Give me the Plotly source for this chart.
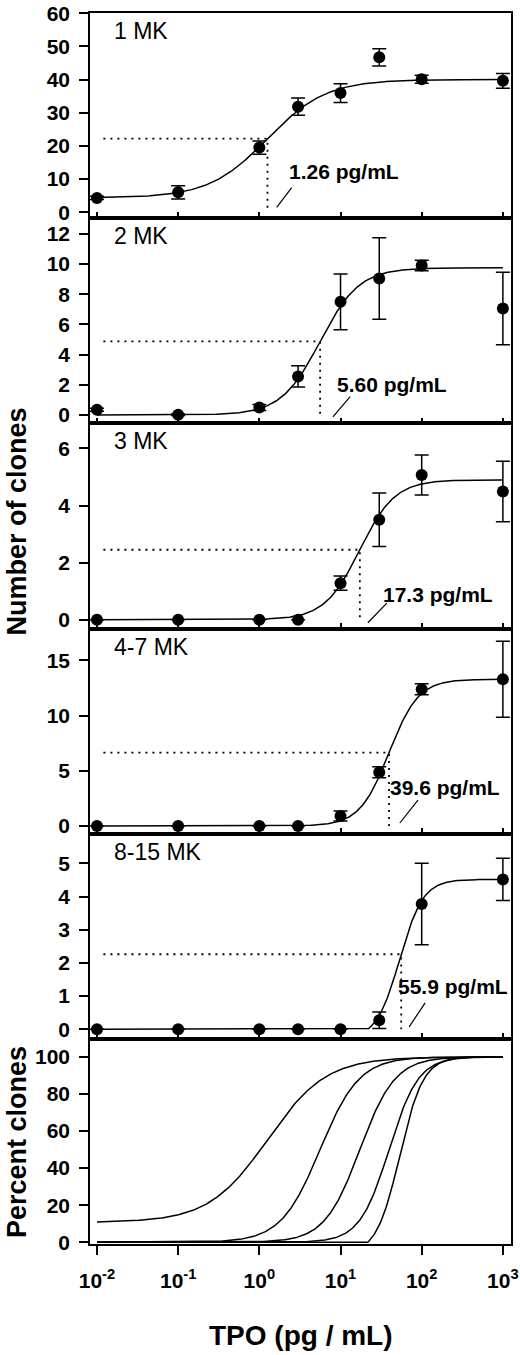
import numpy as np
import plotly.graph_objects as go
from plotly.subplots import make_subplots

# TPO doses (pg/mL)
doses = [0.01, 0.1, 1, 3, 10, 30, 100, 1000]

panel_names = ['1 MK', '2 MK', '3 MK', '4-7 MK', '8-15 MK']

# number of clones per dose (mean, error)
mk1_mean = [4.3, 6.0, 19.5, 31.8, 35.9, 46.7, 40.1, 39.6]
mk1_err = [0.5, 2.0, 2.0, 2.6, 2.8, 2.6, 1.2, 2.2]
mk2_mean = [0.35, 0.02, 0.5, 2.56, 7.5, 9.04, 9.9, 7.05]
mk2_err = [0.1, 0.05, 0.2, 0.7, 1.85, 2.7, 0.35, 2.4]
mk3_mean = [0, 0, 0, 0, 1.28, 3.5, 5.07, 4.49]
mk3_err = [0, 0, 0, 0, 0.25, 0.94, 0.7, 1.06]
mk47_mean = [0, 0, 0, 0, 0.9, 4.86, 12.4, 13.3]
mk47_err = [0, 0, 0, 0, 0.45, 0.5, 0.5, 3.45]
mk815_mean = [0, 0, 0, 0, 0, 0.27, 3.78, 4.52]
mk815_err = [0, 0, 0, 0, 0, 0.25, 1.23, 0.64]

means = [mk1_mean, mk2_mean, mk3_mean, mk47_mean, mk815_mean]
errs = [mk1_err, mk2_err, mk3_err, mk47_err, mk815_err]

# sigmoid fit parameters (bottom, top, midpoint, slope)
fit_bottom = [4.3, 0, 0, 0, -0.3]
fit_top = [40, 9.75, 4.9, 13.3, 4.52]
fit_mid = [1.26, 5.6, 17.3, 39.6, 53.6]
fit_hill = [1.2, 1.8, 2.0, 2.4, 3.0]

# reported half-max doses
ec50 = [1.26, 5.60, 17.3, 39.6, 55.9]
ec50_text = ['1.26 pg/mL', '5.60 pg/mL', '17.3 pg/mL', '39.6 pg/mL', '55.9 pg/mL']

x_tickvals = [0.01, 0.1, 1, 10, 100, 1000]
x_ticktext = ['10<sup>-2</sup>', '10<sup>-1</sup>', '10<sup>0</sup>',
              '10<sup>1</sup>', '10<sup>2</sup>', '10<sup>3</sup>']


def fit_curve(x, i):
    x = np.asarray(x, dtype=float)
    y = fit_bottom[i] + (fit_top[i] - fit_bottom[i]) / (1 + (fit_mid[i] / x) ** fit_hill[i])
    return np.clip(y, 0, None)


xs = np.logspace(-2, 3, 400)

FONT = 'Liberation Sans'
y_ranges = [[-1.8, 60.05], [-0.55, 13.04], [-0.31, 6.88], [-0.7, 17.9], [-0.29, 5.9], [-0.9, 109.7]]
y_dticks = [10, 2, 2, 5, 1, 20]

# EC50 label placement (log10 x, y in data units)
label_pos = [(0.346, 12.4), (0.926, 2.04), (1.494, 0.87), (1.58, 3.48), (1.68, 1.28)]
# small leader strokes under the labels, in panel domain fractions (x0, y0, x1, y1)
slash_pos = [(0.4435, 0.053, 0.479, 0.149), (0.577, 0.032, 0.618, 0.130),
             (0.660, 0.028, 0.705, 0.124), (0.736, 0.052, 0.779, 0.164),
             (0.758, 0.058, 0.796, 0.175)]

fig = make_subplots(rows=6, cols=1, shared_xaxes=True, vertical_spacing=0)

for i in range(5):
    row = i + 1
    fig.add_trace(go.Scatter(x=xs, y=fit_curve(xs, i), mode='lines',
                             line=dict(color='black', width=1.5)), row=row, col=1)
    half = float(fit_curve([ec50[i]], i)[0])
    fig.add_trace(go.Scatter(x=[0.012, ec50[i], ec50[i]], y=[half, half, 0], mode='lines',
                             line=dict(color='black', width=1.8, dash='2px,5px')), row=row, col=1)
    fig.add_trace(go.Scatter(x=doses, y=means[i], mode='markers',
                             marker=dict(color='black', size=12),
                             error_y=dict(type='data', array=errs[i], color='black',
                                          thickness=1.5, width=7)), row=row, col=1)

# percent of maximal response
for i in range(5):
    fig.add_trace(go.Scatter(x=xs, y=fit_curve(xs, i) / fit_top[i] * 100, mode='lines',
                             line=dict(color='black', width=1.5)), row=6, col=1)

axis_common = dict(showline=True, mirror=True, linecolor='black', linewidth=1.5,
                   showgrid=False, zeroline=False, automargin=False)

for r in range(1, 7):
    fig.update_xaxes(type='log', range=[-2.086, 3.1], tickvals=x_tickvals,
                     ticktext=x_ticktext, tickcolor='black', tickwidth=1.5,
                     row=r, col=1, **axis_common)
    fig.update_yaxes(range=y_ranges[r - 1], dtick=y_dticks[r - 1], tick0=0,
                     ticks='outside', ticklen=9, tickwidth=1.5, tickcolor='black',
                     ticklabelstandoff=5,
                     tickfont=dict(family=FONT, size=21, color='black', weight='bold'),
                     row=r, col=1, **axis_common)
    if r < 6:
        fig.update_xaxes(ticks='inside', ticklen=6, showticklabels=False, row=r, col=1)
    else:
        fig.update_xaxes(ticks='outside', ticklen=9, showticklabels=True,
                         ticklabelstandoff=8,
                         tickfont=dict(family=FONT, size=21, color='black', weight='bold'),
                         row=r, col=1)

annotations = []
shapes = []
for i in range(5):
    xr = 'x' if i == 0 else f'x{i + 1}'
    yr = 'y' if i == 0 else f'y{i + 1}'
    annotations.append(dict(text=panel_names[i], xref=f'{xr} domain', yref=f'{yr} domain',
                            x=0.053, y=0.912, xanchor='left', yanchor='middle', showarrow=False,
                            font=dict(family=FONT, size=23, color='black')))
    annotations.append(dict(text=ec50_text[i], xref=xr, yref=yr,
                            x=label_pos[i][0], y=label_pos[i][1], xanchor='left', yanchor='middle',
                            showarrow=False,
                            font=dict(family=FONT, size=21, color='black', weight='bold')))
    x0, y0, x1, y1 = slash_pos[i]
    shapes.append(dict(type='line', xref=f'{xr} domain', yref=f'{yr} domain',
                       x0=x0, y0=y0, x1=x1, y1=y1,
                       line=dict(color='black', width=1.2)))

# shared axis titles
annotations.append(dict(text='Number of clones', xref='paper', yref='paper', x=-0.173, y=0.587,
                        textangle=-90, showarrow=False, xanchor='center', yanchor='middle',
                        font=dict(family=FONT, size=27, color='black', weight='bold')))
annotations.append(dict(text='Percent clones', xref='paper', yref='paper', x=-0.173, y=0.083,
                        textangle=-90, showarrow=False, xanchor='center', yanchor='middle',
                        font=dict(family=FONT, size=27, color='black', weight='bold')))
annotations.append(dict(text='TPO (pg / mL)', xref='paper', yref='paper', x=0.5, y=-0.0747,
                        showarrow=False, xanchor='center', yanchor='middle',
                        font=dict(family=FONT, size=28, color='black', weight='bold')))

fig.update_layout(width=520, height=1355, showlegend=False,
                  paper_bgcolor='white', plot_bgcolor='white',
                  margin=dict(l=90, r=9, t=13, b=111),
                  font=dict(family=FONT, color='black'),
                  annotations=annotations, shapes=shapes)

fig.write_html("out.html", config={'displayModeBar': False},
               post_script="document.body.style.margin='0';")
